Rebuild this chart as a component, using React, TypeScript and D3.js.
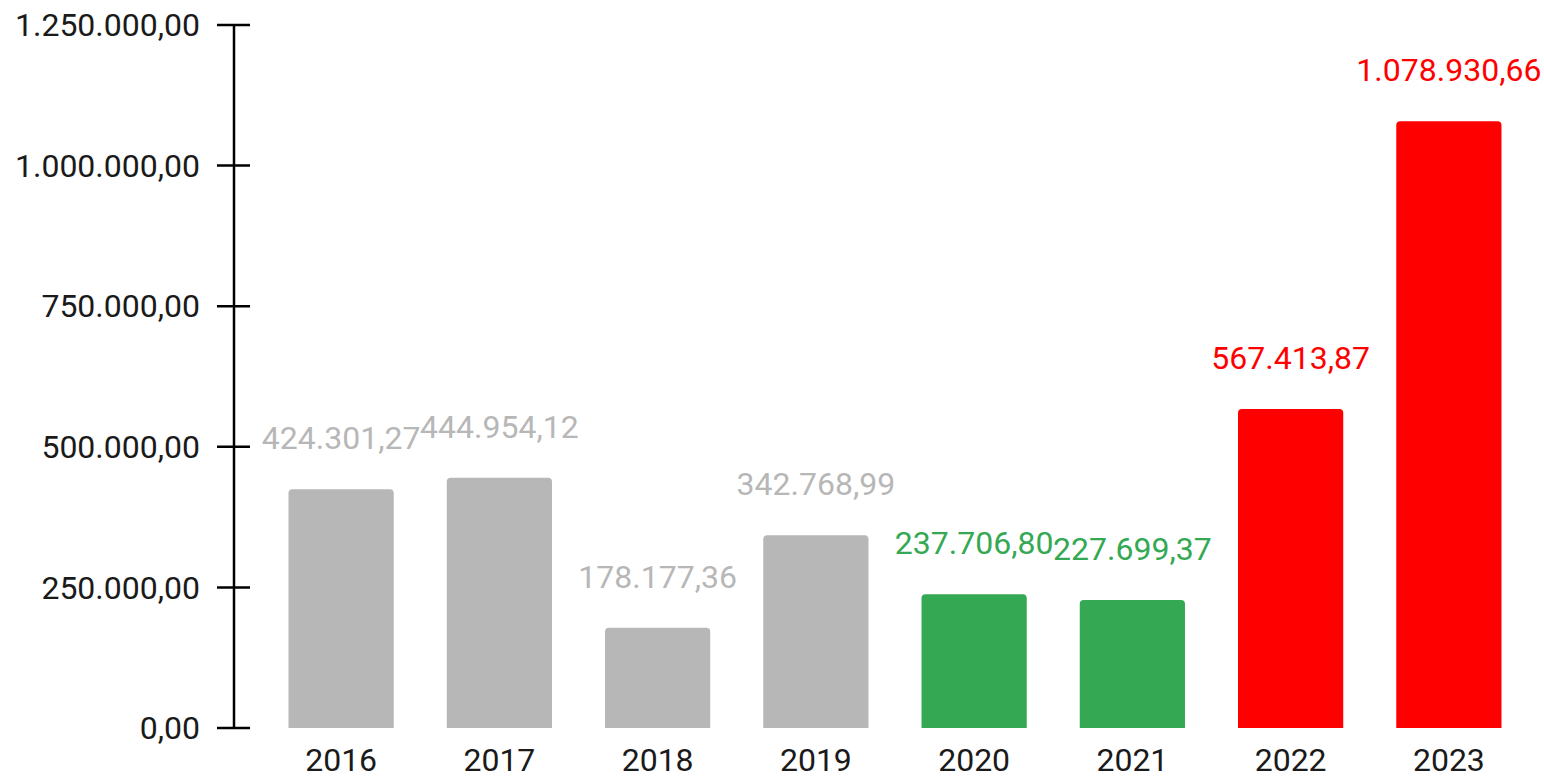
import { useEffect, useRef } from "react";
import * as d3 from "d3";

const years = ["2016", "2017", "2018", "2019", "2020", "2021", "2022", "2023"];
const values = [424301.27, 444954.12, 178177.36, 342768.99, 237706.8, 227699.37, 567413.87, 1078930.66];
const barColors = ["#b7b7b7", "#b7b7b7", "#b7b7b7", "#b7b7b7", "#34a853", "#34a853", "#ff0000", "#ff0000"];
const yTicks = [0, 250000, 500000, 750000, 1000000, 1250000];

const fmt = (v: number) => {
  const [int, dec] = v.toFixed(2).split(".");
  return int.replace(/\B(?=(\d{3})+(?!\d))/g, ".") + "," + dec;
};

const App: React.FC = () => {
  const svgRef = useRef<SVGSVGElement | null>(null);

  useEffect(() => {
    if (!svgRef.current) return;
    const width = 1544;
    const height = 778;

    const svg = d3.select(svgRef.current).attr("width", width).attr("height", height);
    svg.selectAll("*").remove();

    const x = d3.scaleBand<string>().domain(years).range([262, 1528]).paddingInner(0.335).paddingOuter(0.1675);
    const y = d3.scaleLinear().domain([0, 1250000]).range([728, 25]);

    const font = "Roboto, sans-serif";
    const fs = 32;

    // y axis
    const axis = svg.append("g").attr("transform", "translate(234,0)");
    axis
      .append("line")
      .attr("y1", y(0))
      .attr("y2", y(1250000))
      .attr("stroke", "#000")
      .attr("stroke-width", 2.5);
    const ticks = axis.selectAll(".tick").data(yTicks).enter().append("g").attr("transform", (d) => `translate(0,${y(d)})`);
    ticks.append("line").attr("x1", -17).attr("x2", 16).attr("stroke", "#000").attr("stroke-width", 2.5);
    ticks
      .append("text")
      .attr("x", -34)
      .attr("dy", "0.35em")
      .attr("text-anchor", "end")
      .attr("font-family", font)
      .attr("font-size", fs)
      .attr("fill", "#1a1a1a")
      .text((d) => fmt(d));

    // bars with rounded top corners
    const r = 4;
    const bw = x.bandwidth();
    const barPath = (d: number, i: number) => {
      const x0 = x(years[i])!;
      const y0 = y(d);
      const yb = y(0);
      return `M${x0},${yb}V${y0 + r}Q${x0},${y0} ${x0 + r},${y0}H${x0 + bw - r}Q${x0 + bw},${y0} ${x0 + bw},${y0 + r}V${yb}Z`;
    };
    svg
      .selectAll(".bar")
      .data(values)
      .enter()
      .append("path")
      .attr("class", "bar")
      .attr("d", (d, i) => barPath(d, i))
      .attr("fill", (d, i) => barColors[i]);

    // value labels
    svg
      .selectAll(".val")
      .data(values)
      .enter()
      .append("text")
      .attr("x", (d, i) => x(years[i])! + bw / 2)
      .attr("y", (d) => y(d) - 40)
      .attr("text-anchor", "middle")
      .attr("font-family", font)
      .attr("font-size", fs)
      .attr("fill", (d, i) => barColors[i])
      .text((d) => fmt(d));

    // year labels
    svg
      .selectAll(".year")
      .data(years)
      .enter()
      .append("text")
      .attr("x", (d) => x(d)! + bw / 2)
      .attr("y", 771)
      .attr("text-anchor", "middle")
      .attr("font-family", font)
      .attr("font-size", fs)
      .attr("fill", "#1a1a1a")
      .text((d) => d);
  }, []);

  return <svg ref={svgRef} style={{ position: "absolute", left: 0, top: 0, background: "#fff" }}></svg>;
};

export default App;
